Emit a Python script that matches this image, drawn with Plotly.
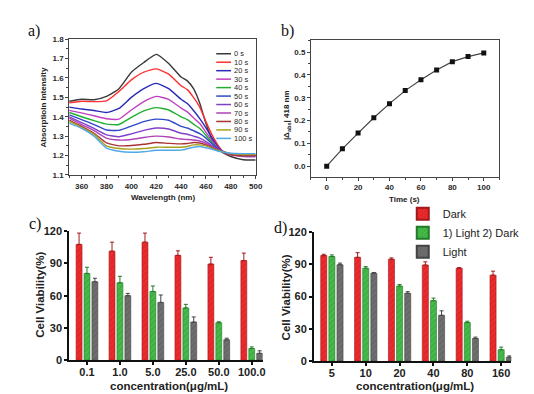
import plotly.graph_objects as go

# ---------------- data ----------------
wavelength = [350, 360, 370, 380, 390, 400, 410, 420, 430, 440, 445, 450, 455, 460, 465, 470, 475, 480, 490, 500]
abs_0s   = [1.480, 1.490, 1.488, 1.505, 1.545, 1.630, 1.680, 1.722, 1.675, 1.605, 1.585, 1.545, 1.470, 1.365, 1.280, 1.230, 1.210, 1.195, 1.178, 1.177]
abs_10s  = [1.472, 1.480, 1.478, 1.482, 1.530, 1.590, 1.630, 1.647, 1.620, 1.560, 1.540, 1.500, 1.450, 1.375, 1.305, 1.250, 1.213, 1.203, 1.198, 1.197]
abs_20s  = [1.450, 1.440, 1.432, 1.422, 1.443, 1.500, 1.545, 1.572, 1.545, 1.490, 1.468, 1.432, 1.390, 1.343, 1.290, 1.240, 1.217, 1.207, 1.200, 1.200]
abs_30s  = [1.433, 1.420, 1.405, 1.390, 1.388, 1.435, 1.478, 1.505, 1.490, 1.445, 1.425, 1.395, 1.365, 1.320, 1.275, 1.235, 1.217, 1.205, 1.195, 1.193]
abs_40s  = [1.422, 1.400, 1.380, 1.362, 1.360, 1.397, 1.430, 1.447, 1.435, 1.400, 1.385, 1.362, 1.340, 1.305, 1.265, 1.232, 1.217, 1.207, 1.200, 1.200]
abs_50s  = [1.410, 1.385, 1.360, 1.332, 1.330, 1.352, 1.375, 1.388, 1.382, 1.350, 1.342, 1.328, 1.313, 1.290, 1.260, 1.232, 1.217, 1.208, 1.200, 1.200]
abs_60s  = [1.400, 1.370, 1.340, 1.307, 1.297, 1.312, 1.330, 1.342, 1.337, 1.315, 1.310, 1.300, 1.290, 1.272, 1.250, 1.230, 1.217, 1.207, 1.200, 1.200]
abs_70s  = [1.393, 1.360, 1.328, 1.290, 1.280, 1.283, 1.293, 1.300, 1.296, 1.285, 1.283, 1.280, 1.275, 1.263, 1.245, 1.228, 1.217, 1.207, 1.200, 1.200]
abs_80s  = [1.383, 1.350, 1.315, 1.265, 1.250, 1.252, 1.258, 1.267, 1.263, 1.260, 1.262, 1.267, 1.265, 1.255, 1.240, 1.227, 1.217, 1.207, 1.200, 1.200]
abs_90s  = [1.377, 1.345, 1.310, 1.250, 1.236, 1.233, 1.236, 1.243, 1.243, 1.243, 1.247, 1.255, 1.255, 1.250, 1.237, 1.225, 1.217, 1.210, 1.205, 1.205]
abs_100s = [1.367, 1.340, 1.300, 1.238, 1.222, 1.217, 1.220, 1.227, 1.227, 1.228, 1.235, 1.243, 1.247, 1.240, 1.232, 1.222, 1.217, 1.212, 1.210, 1.210]
spectra_names = ["0 s", "10 s", "20 s", "30 s", "40 s", "50 s", "60 s", "70 s", "80 s", "90 s", "100 s"]
spectra = [abs_0s, abs_10s, abs_20s, abs_30s, abs_40s, abs_50s, abs_60s, abs_70s, abs_80s, abs_90s, abs_100s]
spectra_colors = ["#3a3a3a", "#ff3030", "#2a2ab8", "#c040c0", "#20b030", "#3048c8",
                  "#8040c8", "#b040b8", "#a83434", "#a8a020", "#50a8e8"]

time_s = [0, 10, 20, 30, 40, 50, 60, 70, 80, 90, 100]
delta_abs = [0.000, 0.076, 0.145, 0.212, 0.274, 0.331, 0.379, 0.421, 0.458, 0.480, 0.496]

conc_c = ["0.1", "1.0", "5.0", "25.0", "50.0", "100.0"]
dark_c = [107.7, 101.4, 109.8, 97.5, 89.4, 92.7]
dark_c_err = [10.5, 8.4, 8.4, 4.2, 6.3, 6.9]
l2d_c = [80.7, 72.0, 63.9, 48.6, 34.8, 10.8]
l2d_c_err = [5.7, 6.0, 5.1, 3.3, 0.9, 1.5]
light_c = [72.9, 60.0, 53.7, 35.4, 18.9, 6.3]
light_c_err = [3.3, 2.1, 6.9, 4.8, 1.5, 2.4]

conc_d = ["5", "10", "20", "40", "80", "160"]
dark_d = [98.2, 96.6, 94.8, 89.4, 86.4, 80.0]
dark_d_err = [1.2, 4.3, 1.2, 3.0, 0.6, 3.7]
l2d_d = [97.3, 86.4, 69.8, 56.2, 35.9, 10.6]
l2d_d_err = [1.5, 1.5, 1.5, 2.4, 1.2, 2.4]
light_d = [89.7, 81.8, 63.1, 42.6, 21.1, 3.6]
light_d_err = [1.5, 0.6, 1.5, 4.2, 1.2, 1.2]

series_names = ["Dark", "1) Light 2) Dark", "Light"]

# ---------------- style ----------------
W, H = 534, 394
FONT = "Liberation Sans, Arial, sans-serif"
TXT = "#2a2a2a"
bar_main = ["#ec2a2c", "#45b94a", "#6e6e6e"]
bar_dark = ["#a01a1c", "#237a28", "#444444"]

def px_x(p):
    return p / W

def px_y(p):
    return 1 - p / H

fig = go.Figure()

# panel a: spectra
for name, ys, col in zip(spectra_names, spectra, spectra_colors):
    fig.add_trace(go.Scatter(x=wavelength, y=ys, mode="lines", name=name,
                             line=dict(color=col, width=1.4, shape="spline", smoothing=0.5),
                             xaxis="x", yaxis="y", showlegend=False))

# panel b
fig.add_trace(go.Scatter(x=time_s, y=delta_abs, mode="lines+markers",
                         line=dict(color="#444444", width=1.2),
                         marker=dict(symbol="square", size=5, color="#111111"),
                         xaxis="x2", yaxis="y2", showlegend=False))

# panels c and d
def add_bars(cats, vals_list, errs_list, xa, ya, show):
    for i, (vals, errs) in enumerate(zip(vals_list, errs_list)):
        fig.add_trace(go.Bar(
            x=cats, y=vals, name=series_names[i], xaxis=xa, yaxis=ya,
            showlegend=show, legendgroup=series_names[i],
            marker=dict(color=bar_main[i], line=dict(color=bar_dark[i], width=0.6),
                        pattern=dict(shape="/", fgcolor=bar_dark[i], bgcolor=bar_main[i],
                                     size=4, solidity=0.2)),
            error_y=dict(type="data", array=errs, arrayminus=[0] * len(errs), symmetric=False,
                         color=bar_dark[i], thickness=1, width=2),
        ))

add_bars(conc_c, [dark_c, l2d_c, light_c], [dark_c_err, l2d_c_err, light_c_err], "x3", "y3", False)
add_bars(conc_d, [dark_d, l2d_d, light_d], [dark_d_err, l2d_d_err, light_d_err], "x4", "y4", True)

small_tick = dict(size=8, family=FONT, color=TXT, weight="bold")
big_tick = dict(size=11, family=FONT, color="#222222", weight="bold")

box_axis = dict(showline=True, mirror=True, linecolor="#444444", linewidth=1, showgrid=False,
                zeroline=False, ticks="outside", ticklen=3, tickcolor="#444444",
                tickfont=small_tick,
                minor=dict(ticks="outside", ticklen=2, tickcolor="#444444"))
bar_axis = dict(showline=True, linecolor="#111111", linewidth=1.8, showgrid=False, zeroline=False,
                ticks="outside", ticklen=3, tickwidth=1.5, tickcolor="#111111", tickfont=big_tick)

fig.update_layout(
    width=W, height=H, margin=dict(l=0, r=0, t=0, b=0),
    paper_bgcolor="white", plot_bgcolor="white",
    barmode="group", bargap=0.28, bargroupgap=0.25,
    xaxis=dict(box_axis, domain=[px_x(62), px_x(251)], range=[350, 500], tick0=360, dtick=20,
               minor=dict(ticks="outside", ticklen=2, tickcolor="#444444", dtick=10), anchor="y"),
    yaxis=dict(box_axis, domain=[px_y(166), px_y(26)], range=[1.1, 1.8], dtick=0.1, tickformat=".1f",
               minor=dict(ticks="outside", ticklen=2, tickcolor="#444444", dtick=0.05), anchor="x"),
    xaxis2=dict(box_axis, domain=[px_x(307), px_x(498)], range=[-10, 110], tick0=0, dtick=20,
                minor=dict(ticks="outside", ticklen=2, tickcolor="#444444", dtick=10), anchor="y2"),
    yaxis2=dict(box_axis, domain=[px_y(168), px_y(27)], range=[-0.047, 0.552], tick0=0, dtick=0.1,
                tickformat=".1f",
                minor=dict(ticks="outside", ticklen=2, tickcolor="#444444", dtick=0.05), anchor="x2"),
    xaxis3=dict(bar_axis, domain=[px_x(62), px_x(258)], type="category", range=[-0.54, 5.33],
                ticklabelstandoff=-2, anchor="y3"),
    yaxis3=dict(bar_axis, domain=[px_y(357), px_y(224)], range=[0, 120], tick0=0, dtick=30, anchor="x3"),
    xaxis4=dict(bar_axis, domain=[px_x(310), px_x(510)], type="category", range=[-0.53, 5.3],
                ticklabelstandoff=-2, anchor="y4"),
    yaxis4=dict(bar_axis, domain=[px_y(358), px_y(225)], range=[0, 120], tick0=0, dtick=30, anchor="x4"),
    legend=dict(x=px_x(400), y=px_y(191), xanchor="left", yanchor="top", bgcolor="rgba(0,0,0,0)",
                font=dict(size=11, family=FONT, color="#222222"), tracegroupgap=0,
                itemsizing="constant"),
)

ann = []
shapes = []
# panel a manual legend
for i, (name, col) in enumerate(zip(spectra_names, spectra_colors)):
    yy = px_y(41 + i * 8.73)
    shapes.append(dict(type="line", xref="paper", yref="paper", x0=px_x(211), x1=px_x(226),
                       y0=yy, y1=yy, line=dict(color=col, width=1.5)))
    ann.append(dict(text=name, xref="paper", yref="paper", x=px_x(227), y=yy, xanchor="left",
                    yanchor="middle", showarrow=False, font=dict(size=7.5, family=FONT, color=TXT)))

def title(text, x, y, size, angle=0, weight="bold"):
    ann.append(dict(text=text, xref="paper", yref="paper", x=px_x(x), y=px_y(y), xanchor="center",
                    yanchor="middle", showarrow=False, textangle=angle,
                    font=dict(size=size, family=FONT, color="#222222", weight=weight)))

title("Absorptioin Intensity", 36, 96, 8, -90)
title("Wavelength (nm)", 157, 189, 8)
title("|Δ<sub>abs</sub>| 418 nm", 283, 104, 8, -90)
title("Time (s)", 402, 191, 8)
title("Cell Viability(%)", 33, 290, 11.5, -90)
title("concentration(μg/mL)", 163, 384, 11.5)
title("Cell Viability(%)", 282, 292, 11.5, -90)
title("concentration(μg/mL)", 412, 384, 11.5)

for lab, x, y in [("a)", 26, 18), ("b)", 283, 18), ("c)", 27, 217), ("d)", 276, 221)]:
    ann.append(dict(text=lab, xref="paper", yref="paper", x=px_x(x), y=px_y(y), xanchor="center",
                    yanchor="middle", showarrow=False,
                    font=dict(size=16, family="Liberation Serif, Times New Roman, serif", color="#111111")))

fig.update_layout(annotations=ann, shapes=shapes)
fig.write_html("out.html")
